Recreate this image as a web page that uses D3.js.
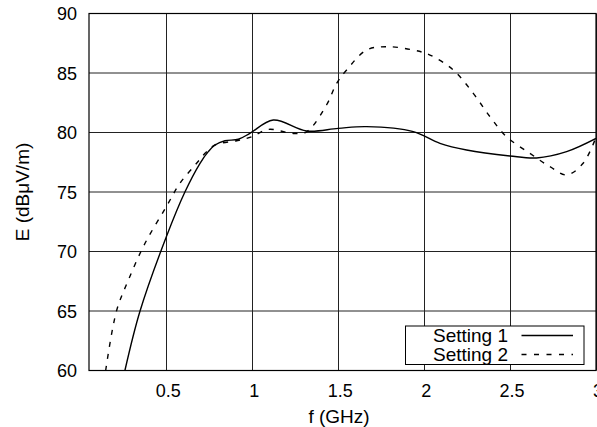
<!DOCTYPE html>
<html>
  <head>
    <meta charset="utf-8">
    <script src="https://d3js.org/d3.v7.min.js"></script>
    <style>
      body { margin: 0; background: #fff; }
      text { font-family: "Liberation Sans", Arial, sans-serif; fill: #000; }
    </style>
  </head>
  <body>
    <div id="chart"></div>
    <script>
        // Setting 1 (solid)
        var f1 = [0.259, 0.347, 0.5, 0.608, 0.696, 0.744, 0.783, 0.841, 0.919, 0.986, 1.122, 1.316, 1.5, 1.665, 1.937, 2.092, 2.247, 2.499, 2.654, 2.829, 3.0];
        var e1 = [60, 65, 71.24, 75, 77.41, 78.39, 78.95, 79.31, 79.43, 79.93, 81.05, 80.13, 80.35, 80.49, 80.07, 79.09, 78.53, 78.03, 77.86, 78.39, 79.5];
        // Setting 2 (dashed)
        var f2 = [0.147, 0.21, 0.279, 0.376, 0.5, 0.579, 0.676, 0.725, 0.783, 0.909, 0.996, 1.093, 1.238, 1.316, 1.432, 1.491, 1.549, 1.665, 1.781, 1.937, 2.034, 2.17, 2.286, 2.383, 2.48, 2.615, 2.732, 2.829, 2.925, 3.0];
        var e2 = [60, 65, 67.6, 70.69, 73.77, 75.73, 77.41, 78.25, 78.95, 79.31, 79.64, 80.26, 79.92, 80.06, 82.31, 84.13, 85.25, 86.93, 87.21, 86.93, 86.51, 85.25, 83.29, 81.33, 79.64, 78.25, 77.13, 76.43, 77.41, 79.6];

        var xTicks = [0.5, 1, 1.5, 2, 2.5, 3];
        var yTicks = [60, 65, 70, 75, 80, 85, 90];
        var seriesNames = ["Setting 1", "Setting 2"];

        var W = 597, H = 427;
        var pLeft = 89, pRight = 596, pTop = 13.5, pBottom = 370.5;

        var x = d3.scaleLinear().domain([0.05, 3]).range([pLeft, pRight]);
        var y = d3.scaleLinear().domain([60, 90]).range([pBottom, pTop]);

        var svg = d3.select("#chart").append("svg")
            .attr("width", W)
            .attr("height", H);

        svg.append("clipPath").attr("id", "clip")
          .append("rect")
            .attr("x", pLeft).attr("y", pTop)
            .attr("width", pRight - pLeft).attr("height", pBottom - pTop);

        // grid
        svg.append("g").selectAll("line").data(xTicks).enter().append("line")
            .attr("x1", function(d){ return Math.round(x(d)) + 0.5; })
            .attr("x2", function(d){ return Math.round(x(d)) + 0.5; })
            .attr("y1", pTop).attr("y2", pBottom)
            .attr("stroke", "#222").attr("stroke-width", 1);
        svg.append("g").selectAll("line").data(yTicks).enter().append("line")
            .attr("y1", function(d){ return y(d); })
            .attr("y2", function(d){ return y(d); })
            .attr("x1", pLeft).attr("x2", pRight)
            .attr("stroke", "#222").attr("stroke-width", 1);

        // frame
        svg.append("rect")
            .attr("x", pLeft).attr("y", pTop)
            .attr("width", pRight - pLeft).attr("height", pBottom - pTop)
            .attr("fill", "none").attr("stroke", "#000").attr("stroke-width", 1.2);

        // tick labels
        svg.append("g").selectAll("text").data(yTicks).enter().append("text")
            .attr("x", 77)
            .attr("y", function(d){ return y(d) + 6.5; })
            .attr("text-anchor", "end")
            .attr("font-size", 18)
            .text(function(d){ return d; });
        svg.append("g").selectAll("text").data(xTicks).enter().append("text")
            .attr("x", function(d){ return x(d) + 2; })
            .attr("y", 397)
            .attr("text-anchor", "middle")
            .attr("font-size", 18)
            .text(function(d){ return d; });

        // axis titles
        svg.append("text")
            .attr("x", 339).attr("y", 423)
            .attr("text-anchor", "middle")
            .attr("font-size", 19)
            .text("f (GHz)");
        svg.append("text")
            .attr("transform", "translate(29," + ((pTop + pBottom) / 2) + ") rotate(-90)")
            .attr("text-anchor", "middle")
            .attr("font-size", 19)
            .text("E (dBμV/m)");

        // curves
        var line = d3.line()
            .x(function(d){ return x(d[0]); })
            .y(function(d){ return y(d[1]); })
            .curve(d3.curveCatmullRom.alpha(0.5));

        var s1 = d3.zip(f1, e1), s2 = d3.zip(f2, e2);
        var plot = svg.append("g").attr("clip-path", "url(#clip)");
        plot.append("path").attr("d", line(s1))
            .attr("fill", "none").attr("stroke", "#000").attr("stroke-width", 1.4);
        plot.append("path").attr("d", line(s2))
            .attr("fill", "none").attr("stroke", "#000").attr("stroke-width", 1.4)
            .attr("stroke-dasharray", "5,7");

        // legend
        var legend = svg.append("g");
        legend.append("rect")
            .attr("x", 405.5).attr("y", 326)
            .attr("width", 178.5).attr("height", 38.5)
            .attr("fill", "#fff").attr("stroke", "#000").attr("stroke-width", 1);
        var rows = legend.selectAll(".row").data(seriesNames).enter().append("g")
            .attr("transform", function(d, i){ return "translate(0," + (335.5 + i * 19) + ")"; });
        rows.append("text")
            .attr("x", 508).attr("y", 6.5)
            .attr("text-anchor", "end")
            .attr("font-size", 19)
            .text(function(d){ return d; });
        rows.append("line")
            .attr("x1", 521.5).attr("x2", 573).attr("y1", 0).attr("y2", 0)
            .attr("stroke", "#000").attr("stroke-width", 1.4)
            .attr("stroke-dasharray", function(d, i){ return i ? "5,7.5" : null; });
    </script>
  </body>
</html>
